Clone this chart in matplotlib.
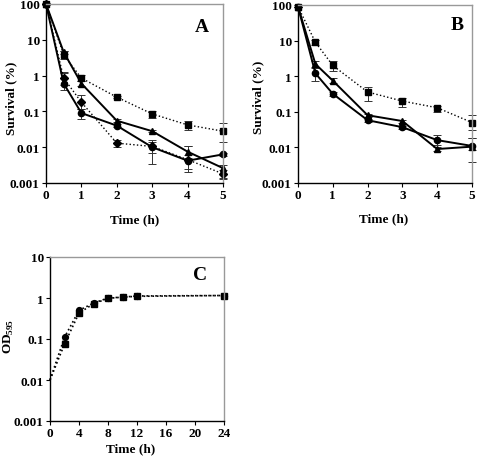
import matplotlib
matplotlib.use('Agg')
import matplotlib.pyplot as plt
import numpy as np

plt.rcParams['font.family'] = 'Liberation Serif'
plt.rcParams['font.weight'] = 'bold'
plt.rcParams['mathtext.fontset'] = 'custom'
plt.rcParams['mathtext.rm'] = 'Liberation Serif:bold'
plt.rcParams['mathtext.bf'] = 'Liberation Serif:bold'

# panel A data
tA = [0, 0.5, 1, 2, 3, 4, 5]
a_sq = [100, 3.8, 0.85, 0.25, 0.085, 0.042, 0.028]
a_sq_lo = [0, 0.8, 0.15, 0.02, 0.02, 0.012, 0.014]
a_sq_hi = [0, 1.0, 0.2, 0.02, 0.017, 0.012, 0.018]
a_tri = [100, 4.5, 0.6, 0.055, 0.028, 0.0075, 0.0026]
a_tri_lo = [0, 0.5, 0.1, 0.005, 0.002, 0.0025, 0.0012]
a_tri_hi = [0, 0.5, 0.1, 0.005, 0.002, 0.0035, 0.0005]
a_cir = [100, 0.6, 0.09, 0.04, 0.01, 0.0042, 0.0063]
a_cir_lo = [0, 0.2, 0.03, 0.004, 0.003, 0.0022, 0.0005]
a_cir_hi = [0, 0.6, 0.03, 0.004, 0.004, 0.002, 0.0005]
a_dia = [100, 0.85, 0.18, 0.013, 0.0105, 0.0045, 0.0018]
a_dia_lo = [0, 0.3, 0.06, 0.003, 0.007, 0.002, 0.0005]
a_dia_hi = [0, 0.4, 0.1, 0.003, 0.005, 0.0065, 0.0005]

# panel B data
tB = [0, 0.5, 1, 2, 3, 4, 5]
b_sq = [90, 9, 2.0, 0.36, 0.2, 0.13, 0.05]
b_sq_lo = [0, 1.5, 0.6, 0.16, 0.06, 0.03, 0.02]
b_sq_hi = [0, 1.5, 0.7, 0.14, 0.05, 0.02, 0.03]
b_tri = [90, 2.2, 0.75, 0.08, 0.055, 0.009, 0.0105]
b_tri_lo = [0, 0.4, 0.1, 0.008, 0.005, 0.001, 0.002]
b_tri_hi = [0, 0.4, 0.15, 0.008, 0.005, 0.001, 0.008]
b_cir = [90, 1.2, 0.32, 0.058, 0.037, 0.016, 0.011]
b_cir_lo = [0, 0.45, 0.04, 0.005, 0.004, 0.004, 0.007]
b_cir_hi = [0, 0.5, 0.04, 0.005, 0.004, 0.006, 0.007]

# panel C data
tC = [0, 2, 4, 6, 8, 10, 12, 24]
c_cir = [0.01, 0.11, 0.5, 0.75, 1.0, 1.05, 1.12, 1.15]
c_sq = [0.01, 0.075, 0.43, 0.72, 0.98, 1.05, 1.1, 1.15]

W, H = 478, 460
fig = plt.figure(figsize=(W / 100, H / 100), dpi=100)
axA = fig.add_axes([46 / W, 1 - 184 / H, 177 / W, 179 / H])
axB = fig.add_axes([298 / W, 1 - 184 / H, 174 / W, 178 / H])
axC = fig.add_axes([50 / W, 1 - 422 / H, 174 / W, 164 / H])


def series(ax, x, y, lo, hi, marker, ls, ms):
    ax.errorbar(x, y, yerr=[lo, hi], color='black', marker=marker, ls=ls,
                lw=1.4 if ls == '-' else 1.0, ms=ms, capsize=3, elinewidth=0.7,
                ecolor='#333333', capthick=0.7)


def style(ax, letter, xlim, xticks, ylabel, ylab_px, xlab_px, let_px):
    ax.set_yscale('log')
    ax.set_ylim(0.001, 100 if letter != 'C' else 10)
    ax.set_xlim(*xlim)
    ax.set_xticks(xticks)
    ax.set_xticklabels([str(v) for v in xticks])
    yt = [0.001, 0.01, 0.1, 1, 10, 100] if letter != 'C' else [0.001, 0.01, 0.1, 1, 10]
    ax.set_yticks(yt)
    ax.set_yticklabels([('%g' % v) for v in yt])
    ax.yaxis.set_minor_locator(matplotlib.ticker.NullLocator())
    ax.tick_params(direction='out', length=3, width=0.8, labelsize=9.5, pad=1.5)
    for lab in ax.get_xticklabels() + ax.get_yticklabels():
        lab.set_fontweight('bold')
    for s in ['top', 'right']:
        ax.spines[s].set_color('#999999')
        ax.spines[s].set_linewidth(1.0)
    for s in ['left', 'bottom']:
        ax.spines[s].set_linewidth(1.0)
    ax.set_xlabel('Time (h)', fontsize=9.5, fontweight='bold')
    ax.set_ylabel(ylabel, fontsize=9.5, fontweight='bold')
    ax.xaxis.set_label_coords(xlab_px[0] / W, 1 - xlab_px[1] / H, transform=fig.transFigure)
    ax.yaxis.set_label_coords(ylab_px[0] / W, 1 - ylab_px[1] / H, transform=fig.transFigure)
    ax.xaxis.label.set_va('center')
    ax.yaxis.label.set_va('center')
    fig.text(let_px[0] / W, 1 - let_px[1] / H, letter, fontsize=14,
             fontweight='bold', ha='center', va='center')


series(axA, tA, a_sq, a_sq_lo, a_sq_hi, 's', ':', 4.2)
series(axA, tA, a_tri, a_tri_lo, a_tri_hi, '^', '-', 4.2)
series(axA, tA, a_cir, a_cir_lo, a_cir_hi, 'o', '-', 4.5)
series(axA, tA, a_dia, a_dia_lo, a_dia_hi, 'D', ':', 3.8)
style(axA, 'A', (0, 5), [0, 1, 2, 3, 4, 5], 'Survival (%)', (11, 98), (135, 220), (202, 27))

series(axB, tB, b_sq, b_sq_lo, b_sq_hi, 's', ':', 4.2)
series(axB, tB, b_tri, b_tri_lo, b_tri_hi, '^', '-', 4.2)
series(axB, tB, b_cir, b_cir_lo, b_cir_hi, 'o', '-', 4.5)
style(axB, 'B', (0, 5), [0, 1, 2, 3, 4, 5], 'Survival (%)', (258, 97), (384, 219), (457, 25))

axC.plot(tC, c_cir, color='black', ls=':', lw=1.2, marker='o', ms=4.2, markevery=list(range(1, len(tC))))
axC.plot(tC, c_sq, color='black', ls=':', lw=1.2, marker='s', ms=4, markevery=list(range(1, len(tC))))
style(axC, 'C', (0, 24), [0, 4, 8, 12, 16, 20, 24], 'OD$_{595}$', (9, 336), (131, 449), (200, 275))

for ax in [axA, axB, axC]:
    for l in ax.lines:
        l.set_clip_on(False)

fig.savefig('out.png', dpi=100)
